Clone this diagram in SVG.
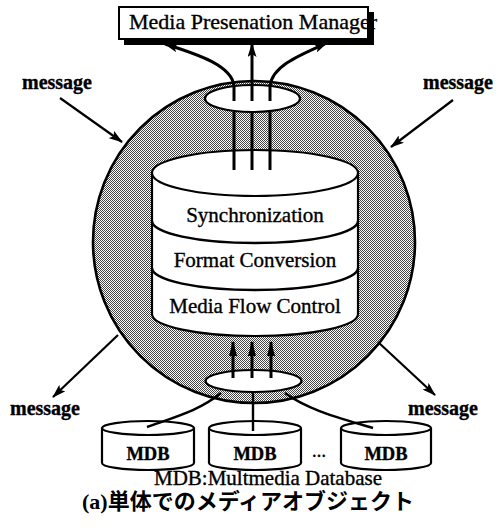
<svg xmlns="http://www.w3.org/2000/svg" width="496" height="531" viewBox="0 0 496 531">
  <style>
    .serif { font-family: "Liberation Serif", "Times New Roman", serif; fill: #000; stroke: #000; stroke-width: 0.35; }
    .cjk { font-family: "Liberation Serif", "Noto Sans CJK JP", sans-serif; fill: #000; }
    .outline { fill: #fff; stroke: #000; stroke-width: 2.2; }
    .line { fill: none; stroke: #000; stroke-width: 2.4; }
    .flow { fill: none; stroke: #000; stroke-width: 3; }
    .msg { fill: none; stroke: #000; stroke-width: 2.2; marker-end: url(#head); }
  </style>
  <defs>
    <!-- fine dot screen used for the shell of the object -->
    <pattern id="dither" width="2" height="2" patternUnits="userSpaceOnUse">
      <rect width="2" height="2" fill="#fff"/>
      <rect x="0" y="0" width="1" height="1" fill="#444"/>
      <rect x="1" y="1" width="1" height="1" fill="#444"/>
    </pattern>
    <marker id="head" viewBox="0 0 14 9" refX="13" refY="4.5" markerWidth="14" markerHeight="9" markerUnits="userSpaceOnUse" orient="auto">
      <path d="M0,0 L14,4.5 L0,9 L3,4.5 z" fill="#000"/>
    </marker>
    <marker id="headNarrow" viewBox="0 0 15 8" refX="14" refY="4" markerWidth="15" markerHeight="8" markerUnits="userSpaceOnUse" orient="auto">
      <path d="M0,0 L15,4 L0,8 z" fill="#000"/>
    </marker>
  </defs>

  <rect width="496" height="531" fill="#fff"/>

  <!-- presentation manager box with drop shadow -->
  <g id="manager">
    <rect x="124" y="12" width="250" height="33" fill="#000"/>
    <rect x="119" y="7" width="249" height="32" fill="#fff"/>
    <text class="serif" x="129" y="29" font-size="22">Media Presenation Manager</text>
    <rect x="119" y="7" width="249" height="32" fill="none" stroke="#000" stroke-width="2"/>
    <rect x="368" y="12" width="6" height="33" fill="#000"/>
  </g>

  <!-- shaded shell of the media object -->
  <g id="object-shell">
    <circle cx="254" cy="242" r="161" fill="url(#dither)" stroke="#000" stroke-width="2.6"/>
  </g>

  <!-- layered processing stack -->
  <g id="stack">
    <path class="outline" d="M152,173 L152,314 A103,22 0 0 0 358,314 L358,173 Z"/>
    <ellipse class="outline" cx="255" cy="173" rx="103" ry="23"/>
    <path class="line" d="M152,221 A103,22 0 0 0 358,221"/>
    <path class="line" d="M152,268 A103,22 0 0 0 358,268"/>
    <text class="serif" x="255" y="222" font-size="21" text-anchor="middle">Synchronization</text>
    <text class="serif" x="255" y="267" font-size="21" text-anchor="middle">Format Conversion</text>
    <text class="serif" x="255" y="313" font-size="21" text-anchor="middle">Media Flow Control</text>
  </g>

  <!-- output port (top) and input port (bottom) -->
  <g id="port-out">
    <ellipse class="outline" cx="252.5" cy="98.5" rx="47.5" ry="13.5"/>
  </g>
  <g id="port-in">
    <ellipse class="outline" cx="253.5" cy="381" rx="48" ry="11"/>
  </g>

  <!-- media databases -->
  <g id="mdb-1">
    <path class="outline" d="M102,428 L102,463 A46,7 0 0 0 194,463 L194,428"/>
    <ellipse class="outline" cx="148" cy="428" rx="46" ry="7"/>
    <text class="serif" x="148" y="460" font-size="18.5" font-weight="bold" text-anchor="middle">MDB</text>
  </g>
  <g id="mdb-2">
    <path class="outline" d="M209,428 L209,463 A46,7 0 0 0 301,463 L301,428"/>
    <ellipse class="outline" cx="255" cy="428" rx="46" ry="7"/>
    <text class="serif" x="255" y="460" font-size="18.5" font-weight="bold" text-anchor="middle">MDB</text>
  </g>
  <g id="mdb-3">
    <path class="outline" d="M341,428 L341,463 A45,7 0 0 0 431,463 L431,428"/>
    <ellipse class="outline" cx="386" cy="428" rx="45" ry="7"/>
    <text class="serif" x="386" y="460" font-size="18.5" font-weight="bold" text-anchor="middle">MDB</text>
  </g>
  <g id="mdb-more">
    <text class="serif" x="319" y="457" font-size="14" font-weight="bold" text-anchor="middle">…</text>
  </g>

  <!-- connectors -->
  <g id="connectors">
    <!-- streams from the stack through the output port to the manager -->
    <path class="flow" d="M234,170 L234,112 M252,170 L252,112 M270,170 L270,112"/>
    <path class="flow" d="M234,101 L234,86 C232,66 200,55 165,44" marker-end="url(#head)"/>
    <path class="flow" d="M252,101 L252,44" marker-end="url(#head)"/>
    <path class="flow" d="M270,101 L270,86 C272,66 300,55 327,43" marker-end="url(#head)"/>
    <!-- streams from the input port into the stack -->
    <path class="flow" d="M233,378 L233,342" marker-end="url(#headNarrow)"/>
    <path class="flow" d="M252,378 L252,342" marker-end="url(#headNarrow)"/>
    <path class="flow" d="M271,378 L271,342" marker-end="url(#headNarrow)"/>
    <!-- database links -->
    <path class="line" d="M221,393 C200,410 178,416 147,427"/>
    <path class="line" d="M253,392 L253,431"/>
    <path class="line" d="M285,393 C308,410 340,418 373,428"/>
    <!-- messages in and out -->
    <path class="msg" d="M60,98 L122,142"/>
    <path class="msg" d="M453,100 L391,147"/>
    <path class="msg" d="M118,335 L53,397"/>
    <path class="msg" d="M378,342 L435,395"/>
  </g>

  <g id="message-labels">
    <text class="serif" x="22" y="89" font-size="20" font-weight="bold">message</text>
    <text class="serif" x="423" y="89" font-size="20" font-weight="bold">message</text>
    <text class="serif" x="10" y="415" font-size="20" font-weight="bold">message</text>
    <text class="serif" x="408" y="415" font-size="20" font-weight="bold">message</text>
  </g>

  <g id="caption">
    <text class="serif" x="268" y="485" font-size="21" text-anchor="middle">MDB:Multmedia Database</text>
    <text class="cjk" x="82" y="509" font-size="22" font-weight="bold">(a)単体でのメディアオブジェクト</text>
  </g>
</svg>
